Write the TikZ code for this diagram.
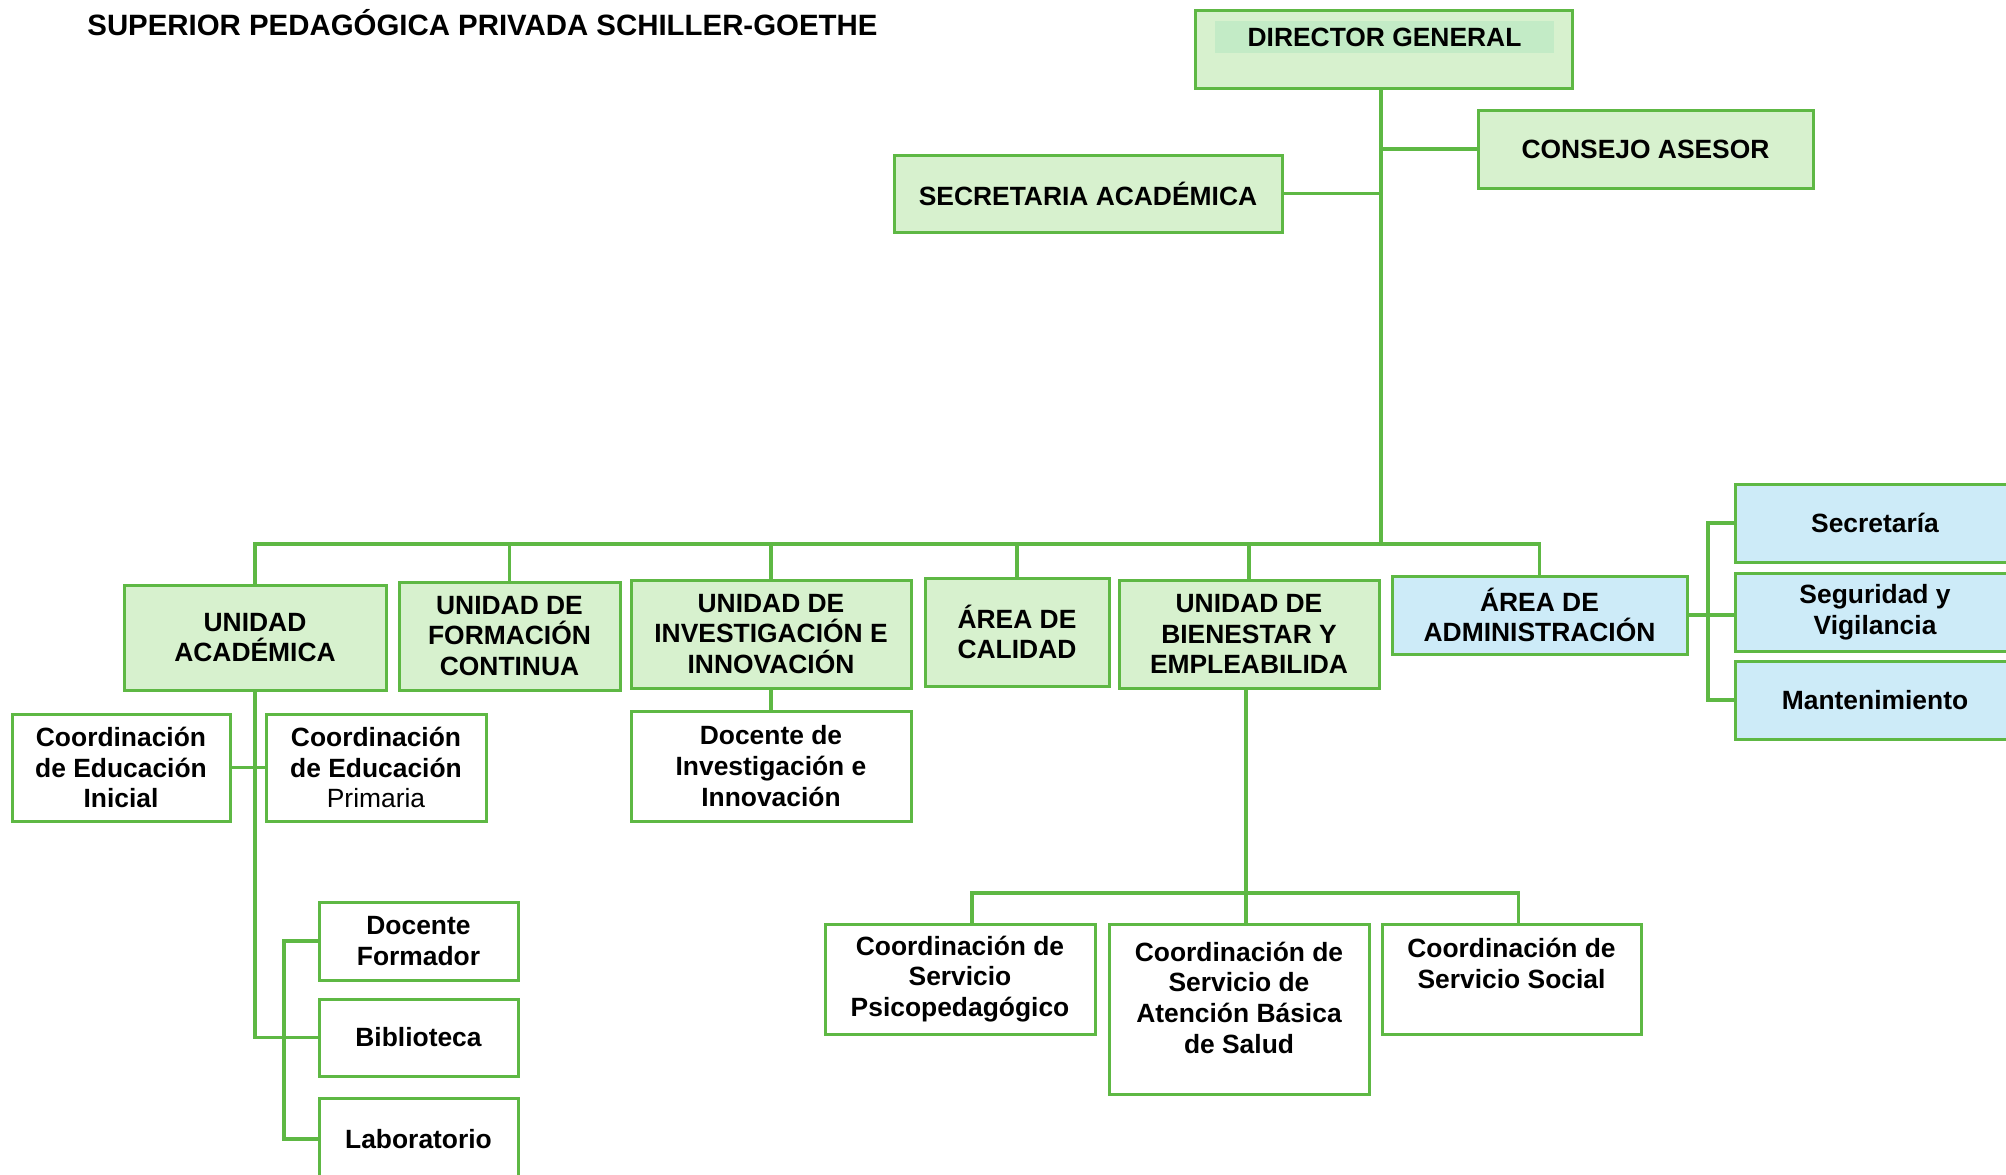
\documentclass[tikz,border=0pt]{standalone}
\usepackage{fontspec}
\usetikzlibrary{calc}
\setmainfont{Liberation Sans}
\definecolor{lg}{HTML}{5EB844}
\definecolor{gfill}{HTML}{D7F1CE}
\definecolor{gband}{HTML}{C3EBC6}
\definecolor{bfill}{HTML}{CDEBF8}
\begin{document}
\begin{tikzpicture}[x=0.5pt,y=-0.5pt,
  box/.style={draw=lg, line width=1.5pt, align=center, inner sep=0pt, text=black,
    font=\fontsize{13.2}{15.4}\selectfont\bfseries},
  gbox/.style={box, fill=gfill},
  bbox/.style={box, fill=bfill},
  wbox/.style={box, fill=white},
  link/.style={draw=lg, line width=1.8pt, line cap=rect}]
\clip (0,0) rectangle (2006,1174);
\fill[white] (0,0) rectangle (2006,1174);

\node[anchor=west, inner sep=0pt, font=\fontsize{14.7}{17}\selectfont\bfseries] (title) at (87,23) {SUPERIOR PEDAGÓGICA PRIVADA SCHILLER-GOETHE};

\node[gbox, minimum width=188.5pt, minimum height=39pt] (dir) at (1383.5,49) {};
\node[fill=gband, minimum width=169.5pt, minimum height=16pt, inner sep=0pt,
  font=\fontsize{13.2}{15.4}\selectfont\bfseries] (dirt) at (1384.5,37) {DIRECTOR GENERAL};
\node[gbox, minimum width=167.5pt, minimum height=39pt] (cons) at (1645.5,149) {CONSEJO ASESOR};
\node[gbox, minimum width=194pt, minimum height=38.5pt] (sec) at (1088,193.5) {SECRETARIA ACADÉMICA};

\node[gbox, minimum width=131pt, minimum height=52.5pt] (ua) at (255,637.5) {UNIDAD\\ACADÉMICA};
\node[gbox, minimum width=110.5pt, minimum height=54pt] (ufc) at (509.5,636) {UNIDAD DE\\FORMACIÓN\\CONTINUA};
\node[gbox, minimum width=140pt, minimum height=54pt] (uii) at (771,634) {UNIDAD DE\\INVESTIGACIÓN E\\INNOVACIÓN};
\node[gbox, minimum width=92pt, minimum height=54pt] (cal) at (1017,632) {ÁREA DE\\CALIDAD};
\node[gbox, minimum width=130pt, minimum height=54pt] (ube) at (1249,634) {UNIDAD DE\\BIENESTAR Y\\EMPLEABILIDA};
\node[bbox, minimum width=147.5pt, minimum height=39pt] (adm) at (1539.5,615) {ÁREA DE\\ADMINISTRACIÓN};

\node[wbox, minimum width=109pt, minimum height=53.5pt] (cei) at (121,767.5) {Coordinación\\de Educación\\Inicial};
\node[wbox, minimum width=110pt, minimum height=53.5pt] (cep) at (376,767.5) {Coordinación\\de Educación\\{\mdseries Primaria}};
\node[wbox, minimum width=99.5pt, minimum height=39pt] (df) at (418.5,941) {Docente\\Formador};
\node[wbox, minimum width=99.5pt, minimum height=38.5pt] (bib) at (418.5,1037.5) {Biblioteca};
\node[wbox, minimum width=99.5pt, minimum height=41pt] (lab) at (418.5,1139) {Laboratorio};

\node[wbox, minimum width=140pt, minimum height=55pt] (dii) at (771,766) {Docente de\\Investigación e\\Innovación};

\node[wbox, minimum width=135pt, minimum height=55pt] (psi) at (960,979) {Coordinación de\\Servicio\\Psicopedagógico};
\node[wbox, minimum width=130pt, minimum height=85pt] (sal) at (1239,1009) {Coordinación de\\Servicio de\\Atención Básica\\de Salud\\[-4pt]\mbox{}};
\node[wbox, minimum width=129.5pt, minimum height=55pt] (soc) at (1511.5,979) {Coordinación de\\Servicio Social\\\mbox{}};

\node[bbox, minimum width=140pt, minimum height=39pt] (sria) at (1875,523) {Secretaría};
\node[bbox, minimum width=140pt, minimum height=39pt] (seg) at (1875,612) {Seguridad y\\Vigilancia};
\node[bbox, minimum width=140pt, minimum height=39pt] (man) at (1875,700) {Mantenimiento};

\coordinate (bus) at (1381,544);
\coordinate (bus2) at (1246,893);
\coordinate (brA) at (284,0);
\coordinate (brB) at (1708,0);
\coordinate (psiT) at ($(psi.north)+(12,0)$);
\coordinate (socT) at ($(soc.north)+(7,0)$);

\draw[link] (dir.south -| bus) -- (bus);
\draw[link] (sec.east) -- (sec.east -| bus);
\draw[link] (cons.west) -- (cons.west -| bus);
\draw[link] (ua.north |- bus) -- (adm.north |- bus);
\foreach \n in {ua,ufc,uii,cal,ube,adm} \draw[link] (\n.north) -- (\n.north |- bus);
\draw[link] (ua.south) -- (ua.south |- bib.west) -- (bib.west);
\draw[link] (cei.east) -- (cep.west);
\draw[link] (df.west) -- (df.west -| brA) -- (lab.west -| brA) -- (lab.west);
\draw[link] (uii.south) -- (dii.north);
\draw[link] (ube.south -| bus2) -- (sal.north -| bus2);
\draw[link] (psiT |- bus2) -- (socT |- bus2);
\draw[link] (psiT) -- (psiT |- bus2);
\draw[link] (socT) -- (socT |- bus2);
\draw[link] (sria.west) -- (sria.west -| brB) -- (man.west -| brB) -- (man.west);
\draw[link] (adm.east) -- (adm.east -| seg.west);
\end{tikzpicture}
\end{document}
